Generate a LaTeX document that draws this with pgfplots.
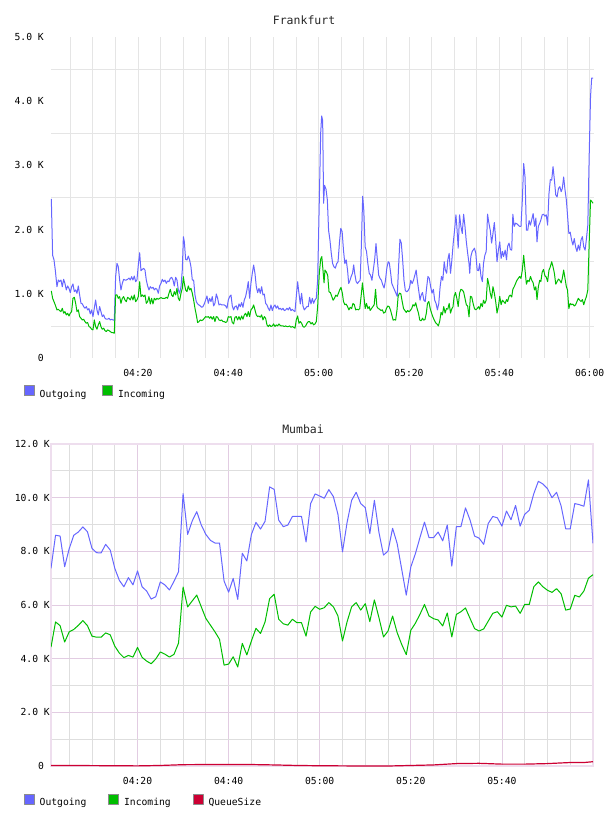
\documentclass[border=0pt]{standalone}
\usepackage{pgfplots}
\pgfplotsset{compat=1.18}
\usepackage{pgfplotstable}
\usepackage{fontspec}
\setmainfont{DejaVu Sans Mono}

\definecolor{outblue}{RGB}{102,102,255}
\definecolor{ingreen}{RGB}{0,190,0}
\definecolor{qred}{RGB}{204,0,51}
\definecolor{fgrid}{RGB}{229,229,229}
\definecolor{mminor}{RGB}{222,222,222}
\definecolor{mmajor}{RGB}{226,204,226}
\definecolor{mframe}{RGB}{238,222,238}

% Mumbai: one sample per minute (minutes after 04:00)
\pgfplotstableread{
t out in
1 7370 4430
2 8600 5370
3 8570 5230
4 7430 4620
5 8100 5000
6 8600 5090
7 8720 5240
8 8910 5420
9 8730 5230
10 8110 4840
11 7950 4800
12 7940 4800
13 8260 4960
14 8050 4890
15 7370 4470
16 6920 4210
17 6680 4040
18 7020 4120
19 6750 4060
20 7270 4420
21 6680 4050
22 6520 3910
23 6220 3810
24 6310 3990
25 6860 4250
26 6750 4170
27 6560 4060
28 6880 4160
29 7240 4580
30 10150 6670
31 8630 5930
32 9130 6150
33 9480 6370
34 8980 5930
35 8630 5500
36 8410 5250
37 8310 5000
38 8310 4720
39 6890 3760
40 6480 3800
41 6990 4070
42 6210 3690
43 7930 4570
44 7640 4140
45 8630 4660
46 9080 5130
47 8830 4940
48 9120 5370
49 10400 6240
50 10310 6400
51 9160 5470
52 8920 5300
53 8980 5250
54 9300 5470
55 9300 5340
56 9300 5340
57 8350 4840
58 9780 5740
59 10140 5950
60 10060 5840
61 9980 5900
62 10300 6090
63 10040 5930
64 9380 5590
65 7980 4660
66 9070 5370
67 9900 5930
68 10200 6090
69 9780 5810
70 9630 6050
71 8660 5380
72 9900 6190
73 8710 5530
74 7860 4810
75 8010 5030
76 8860 5590
77 8290 4970
78 7330 4530
79 6370 4150
80 7420 5060
81 7910 5320
82 8510 5650
83 9090 6020
84 8510 5590
85 8510 5490
86 8720 5440
87 8390 5220
88 8980 5700
89 7450 4810
90 8920 5650
91 8920 5750
92 9620 5890
93 9170 5500
94 8570 5120
95 8490 5030
96 8260 5110
97 9040 5400
98 9300 5690
99 9250 5750
100 8940 5550
101 9500 5990
102 9180 5930
103 9710 5960
104 8940 5690
105 9380 6020
106 9530 6020
107 10150 6680
108 10610 6860
109 10510 6680
110 10340 6550
111 10000 6470
112 10200 6610
113 9690 6420
114 8840 5810
115 8840 5850
116 9780 6360
117 9740 6300
118 9680 6520
119 10660 7000
120 8300 7130
}\mumbai

\pgfplotstableread{
t q
1 20
10 15
20 5
25 20
30 50
35 55
40 60
45 55
50 40
55 20
60 10
65 5
70 0
75 0
80 20
85 40
90 90
95 100
100 70
105 70
110 90
115 130
118 130
120 160
}\mumbaiqueue

\pgfplotsset{
  monitor/.style={
    scale only axis,
    scaled y ticks=false,
    font=\fontsize{9.7}{11}\selectfont,
    major tick length=0pt, minor tick length=0pt,
    tick style={draw=none},
    yticklabel style={anchor=east, inner sep=0pt},
    xticklabel style={anchor=center, inner sep=0pt, yshift=-15pt},
    title style={font=\fontsize{11.5}{13}\selectfont, anchor=center, inner sep=0pt, text=black!85},
    legend columns=-1,
    legend style={draw=none, fill=none, inner sep=0pt, outer sep=0pt,
      anchor=west, font=\fontsize{9.7}{11}\selectfont,
      nodes={inner sep=0pt},
      /tikz/every odd column/.append style={column sep=5pt}},
    legend image code/.code={%
      \draw[fill, draw=black!45, line width=0.7pt] (0pt,-1.5pt) rectangle (10pt,8.5pt);},
    every axis plot/.append style={line width=1pt, line join=round, mark=none},
  }
}

\begin{document}
\begin{tikzpicture}
\useasboundingbox (0,0) rectangle (608pt,-816pt);

% ---------------- Frankfurt ----------------
\begin{axis}[monitor,
  at={(51pt,-358pt)}, anchor=south west,
  width=543pt, height=321pt,
  xmin=0.74, xmax=120.97, ymin=0, ymax=5000,
  axis line style={draw=none},
  xtick={20,40,60,80,100,120},
  xticklabels={04:20,04:40,05:00,05:20,05:40,06:00},
  minor xtick={5,10,15,25,30,35,45,50,55,65,70,75,85,90,95,105,110,115},
  ytick={0,1000,2000,3000,4000,5000},
  yticklabels={0,1.0 K,2.0 K,3.0 K,4.0 K,5.0 K},
  minor ytick={500,1500,2500,3500,4500},
  yticklabel style={xshift=-7pt},
  xmajorgrids, xminorgrids, yminorgrids,
  major grid style={fgrid, line width=0.8pt},
  minor grid style={fgrid, line width=0.8pt},
  title=Frankfurt,
  title style={at={(axis description cs:0.466,1.034)}},
  legend style={at={(axis description cs:-0.0497,-0.106)},
    /tikz/every even column/.append style={column sep=16pt}},
]
\addplot[color=outblue] coordinates {
(0.81,2480) (1.10,1600) (1.40,1530) (1.69,1370) (2.06,1110) (2.36,1215) (2.65,1190) (2.95,1215)
(3.24,1110) (3.54,1225) (3.83,1163) (4.13,1060) (4.42,1122) (4.72,1085) (5.01,1018) (5.31,1110)
(5.60,1153) (5.90,1034) (6.20,1060) (6.49,1008) (6.79,1122) (7.08,982) (7.38,852) (7.67,842)
(7.97,800) (8.26,775) (8.56,800) (8.85,749) (9.15,769) (9.44,687) (9.74,749) (10.03,645)
(10.33,775) (10.62,904) (10.92,749) (11.21,671) (11.51,800) (11.80,723) (12.10,645) (12.40,671)
(12.69,619) (12.99,604) (13.28,604) (13.58,619) (13.87,593) (14.17,604) (14.46,593) (14.76,588)
(15.05,1267) (15.35,1474) (15.64,1422) (15.94,1215) (16.23,1060) (16.53,1163) (16.82,1225) (17.12,1215)
(17.41,1215) (17.71,1225) (18.00,1246) (18.30,1215) (18.59,1267) (18.89,1215) (19.18,1277) (19.48,1189)
(19.77,1215) (20.07,1448) (20.37,1640) (20.66,1360) (20.96,1381) (21.25,1396) (21.55,1370) (21.84,1215)
(22.14,1122) (22.43,1060) (22.73,1111) (23.02,1085) (23.32,1101) (23.61,1060) (23.91,1085) (24.20,1070)
(24.50,1008) (24.79,1122) (25.09,1163) (25.38,1225) (25.68,1189) (25.97,1215) (26.27,1163) (26.56,1200)
(26.86,1189) (27.15,1241) (27.45,1256) (27.75,1215) (28.04,1122) (28.34,1256) (28.63,1215) (28.93,1060)
(29.22,1008) (29.52,1111) (29.81,1370) (30.05,1889) (30.26,1811) (30.55,1536) (30.85,1526) (31.14,1588)
(31.44,1526) (31.73,1422) (32.03,1215) (32.32,1215) (32.62,982) (32.91,878) (33.21,842) (33.50,826)
(33.80,811) (34.09,790) (34.39,800) (34.68,842) (34.98,904) (35.27,966) (35.57,852) (35.86,930)
(36.16,878) (36.45,956) (36.75,811) (37.04,852) (37.34,997) (37.64,930) (37.93,826) (38.23,842)
(38.52,826) (38.82,826) (39.11,826) (39.41,811) (39.70,775) (40.00,904) (40.29,956) (40.59,982)
(40.88,811) (41.18,749) (41.47,800) (41.77,811) (42.06,749) (42.36,842) (42.65,800) (42.95,863)
(43.24,790) (43.54,904) (43.83,956) (44.13,1060) (44.42,1189) (44.72,930) (45.01,1163) (45.31,1319)
(45.61,1448) (45.90,1319) (46.20,1111) (46.49,1018) (46.79,1085) (47.08,1008) (47.38,1111) (47.67,982)
(47.97,997) (48.26,852) (48.56,826) (48.85,775) (49.15,738) (49.44,826) (49.74,738) (50.03,800)
(50.33,826) (50.62,775) (50.92,811) (51.21,759) (51.51,775) (51.80,749) (52.10,775) (52.40,738)
(52.69,749) (52.99,775) (53.28,749) (53.58,790) (53.87,738) (54.17,759) (54.46,738) (54.76,723)
(55.05,956) (55.35,1189) (55.64,1008) (55.94,842) (56.23,1008) (56.53,811) (56.82,749) (57.12,775)
(57.41,800) (57.71,800) (58.00,946) (58.30,842) (58.60,930) (58.89,852) (59.19,904) (59.48,930)
(59.78,1215) (60.15,2460) (60.45,3500) (60.67,3770) (60.89,3700) (61.10,2410) (61.30,2690) (61.63,2630)
(61.93,2460) (62.20,1990) (62.50,1840) (62.80,1630) (63.10,1470) (63.40,1420) (63.70,1400) (64.00,1470)
(64.30,1500) (64.60,1790) (64.90,2020) (65.20,1970) (65.50,1680) (65.80,1470) (66.10,1530) (66.40,1370)
(66.65,1160) (66.95,1210) (67.20,1270) (67.50,1320) (67.76,1450) (67.98,1320) (68.30,1190) (68.60,1160)
(68.90,1190) (69.20,1210) (69.45,1730) (69.75,2520) (70.00,2300) (70.30,1730) (70.60,1660) (70.90,1470)
(71.20,1320) (71.50,1290) (71.80,1210) (72.10,1370) (72.40,1530) (72.70,1780) (73.00,1530) (73.30,1290)
(73.60,1240) (73.90,1210) (74.20,1140) (74.50,1090) (74.80,1210) (75.10,1400) (75.40,1500) (75.65,1480)
(75.95,1320) (76.20,1160) (76.50,1110) (76.80,1060) (77.10,1010) (77.40,960) (77.70,1420) (78.00,1850)
(78.30,1790) (78.60,1530) (78.90,1210) (79.20,1050) (79.50,1030) (79.80,1050) (80.10,1090) (80.40,1210)
(80.70,1160) (81.00,1210) (81.30,1290) (81.60,1370) (81.85,1210) (82.20,1030) (82.45,900) (82.70,980)
(83.00,1020) (83.30,900) (83.60,880) (83.90,1090) (84.20,1270) (84.50,1240) (84.80,1110) (85.10,1010)
(85.40,1070) (85.70,900) (86.00,850) (86.30,750) (86.60,850) (86.90,1110) (87.20,1270) (87.50,1210)
(87.80,1500) (88.05,1370) (88.35,1320) (88.60,1530) (88.90,1630) (89.20,1320) (89.50,1530) (89.80,1790)
(90.10,1990) (90.40,2230) (90.60,2050) (90.90,1710) (91.20,2230) (91.50,2050) (91.80,1940) (92.10,2240)
(92.40,2050) (92.70,1810) (93.00,1630) (93.30,1470) (93.45,1320) (93.70,1580) (94.00,1660) (94.50,1710)
(94.80,1630) (95.10,1370) (95.40,1360) (95.65,1470) (95.95,1270) (96.25,1190) (96.50,1470) (96.80,1600)
(97.10,1660) (97.40,2240) (97.70,2100) (98.00,1990) (98.30,1790) (98.60,1940) (98.90,2110) (99.20,1840)
(99.50,1500) (99.80,1680) (100.10,1810) (100.40,1550) (100.70,1660) (100.95,1580) (101.30,1680) (101.60,1530)
(101.85,1740) (102.15,1790) (102.45,1690) (102.75,1680) (103.00,2240) (103.30,2050) (103.60,2100) (103.90,2090)
(104.20,2070) (104.50,2050) (104.80,2050) (105.10,2460) (105.40,3030) (105.70,2820) (106.00,1990) (106.30,1990)
(106.60,2140) (106.90,2070) (107.20,2160) (107.50,2250) (107.80,2050) (108.10,2180) (108.35,1810) (108.65,2050)
(108.95,2100) (109.20,2150) (109.50,2230) (109.80,2240) (110.10,2210) (110.40,2230) (110.70,2070) (111.00,2560)
(111.30,2780) (111.60,2770) (111.90,2980) (112.20,2770) (112.50,2540) (112.80,2510) (113.10,2640) (113.40,2670)
(113.70,2590) (113.95,2640) (114.25,2820) (114.55,2620) (114.85,2460) (115.10,2230) (115.40,1940) (115.70,1960)
(116.00,1840) (116.30,1760) (116.60,1860) (116.90,1730) (117.20,1660) (117.50,1760) (117.80,1680) (118.10,1840)
(118.40,1890) (118.70,1730) (119.00,1680) (119.30,1860) (119.60,2070) (119.90,3140) (120.20,4070) (120.45,4360)
(120.75,4360)
};
\addlegendentry{Outgoing}
\addplot[color=ingreen] coordinates {
(0.81,1044) (1.10,930) (1.40,878) (1.69,826) (2.06,749) (2.36,759) (2.65,738) (2.95,723)
(3.24,775) (3.54,697) (3.83,723) (4.13,671) (4.42,697) (4.72,655) (5.01,697) (5.31,723)
(5.60,930) (5.90,946) (6.20,852) (6.49,723) (6.79,749) (7.08,645) (7.38,619) (7.67,593)
(7.97,604) (8.26,567) (8.56,541) (8.85,552) (9.15,490) (9.44,479) (9.74,448) (10.03,438)
(10.33,593) (10.62,490) (10.92,448) (11.21,516) (11.51,567) (11.80,490) (12.10,448) (12.40,464)
(12.69,427) (12.99,412) (13.28,438) (13.58,427) (13.87,412) (14.17,396) (14.46,396) (14.76,386)
(15.05,982) (15.35,982) (15.64,930) (15.94,956) (16.23,852) (16.53,930) (16.82,956) (17.12,904)
(17.41,878) (17.71,946) (18.00,930) (18.30,904) (18.59,966) (18.89,904) (19.18,982) (19.48,878)
(19.77,904) (20.07,956) (20.37,1189) (20.66,956) (20.96,982) (21.25,956) (21.55,982) (21.84,852)
(22.14,878) (22.43,956) (22.73,842) (23.02,930) (23.32,842) (23.61,930) (23.91,904) (24.20,930)
(24.50,914) (24.79,930) (25.09,940) (25.38,930) (25.68,930) (25.97,930) (26.27,946) (26.56,930)
(26.86,1008) (27.15,1070) (27.45,982) (27.75,956) (28.04,1034) (28.34,982) (28.63,1085) (28.93,930)
(29.22,894) (29.52,1008) (29.81,1085) (30.05,1267) (30.26,1163) (30.55,1060) (30.85,1034) (31.14,1122)
(31.44,1060) (31.73,1085) (32.03,1008) (32.32,904) (32.62,775) (32.91,671) (33.21,552) (33.50,567)
(33.80,593) (34.09,583) (34.39,593) (34.68,619) (34.98,645) (35.27,635) (35.57,645) (35.86,619)
(36.16,645) (36.45,604) (36.75,645) (37.04,567) (37.34,645) (37.64,635) (37.93,593) (38.23,583)
(38.52,593) (38.82,567) (39.11,567) (39.41,552) (39.70,567) (40.00,645) (40.29,635) (40.59,645)
(40.88,552) (41.18,531) (41.47,635) (41.77,645) (42.06,593) (42.36,645) (42.65,593) (42.95,655)
(43.24,604) (43.54,671) (43.83,697) (44.13,645) (44.42,723) (44.72,645) (45.01,749) (45.31,775)
(45.61,826) (45.90,749) (46.20,671) (46.49,645) (46.79,655) (47.08,635) (47.38,671) (47.67,593)
(47.97,645) (48.26,619) (48.56,516) (48.85,490) (49.15,516) (49.44,490) (49.74,500) (50.03,531)
(50.33,490) (50.62,516) (50.92,500) (51.21,531) (51.51,505) (51.80,500) (52.10,500) (52.40,490)
(52.69,500) (52.99,490) (53.28,490) (53.58,500) (53.87,479) (54.17,490) (54.46,479) (54.76,464)
(55.05,593) (55.35,655) (55.64,541) (55.94,567) (56.23,541) (56.53,490) (56.82,479) (57.12,500)
(57.41,541) (57.71,567) (58.00,567) (58.30,531) (58.60,552) (58.89,516) (59.19,531) (59.48,567)
(59.78,800) (60.15,1320) (60.45,1540) (60.70,1580) (60.96,1370) (61.20,1170) (61.40,1370) (61.70,1340)
(62.00,1290) (62.30,1030) (62.60,1020) (62.90,960) (63.20,900) (63.50,930) (63.80,980) (64.10,960)
(64.40,1010) (64.65,1060) (64.95,1100) (65.25,1010) (65.50,880) (65.80,830) (66.10,840) (66.40,800)
(66.70,750) (67.00,790) (67.30,770) (67.60,850) (67.90,830) (68.20,750) (68.50,760) (68.80,750)
(69.10,770) (69.40,960) (69.70,1170) (70.00,980) (70.30,770) (70.60,850) (70.90,770) (71.20,800)
(71.40,740) (71.70,770) (72.00,800) (72.30,830) (72.60,1070) (72.90,800) (73.20,770) (73.50,760)
(73.80,740) (74.10,750) (74.40,700) (74.70,710) (75.00,770) (75.30,810) (75.60,800) (75.90,750)
(76.20,670) (76.50,590) (76.80,600) (77.05,590) (77.35,750) (77.60,960) (77.90,1010) (78.20,1000)
(78.50,880) (78.80,770) (79.10,740) (79.40,710) (79.70,740) (80.00,720) (80.30,740) (80.60,770)
(80.90,830) (81.20,810) (81.50,860) (81.80,770) (82.10,700) (82.40,590) (82.70,580) (83.00,620)
(83.25,590) (83.55,600) (83.85,700) (84.10,850) (84.40,880) (84.70,770) (85.00,700) (85.30,640)
(85.60,590) (85.90,550) (86.20,530) (86.50,500) (86.80,570) (87.10,710) (87.40,670) (87.70,800)
(88.00,700) (88.30,770) (88.60,760) (88.90,850) (89.20,700) (89.45,760) (89.75,800) (90.00,960)
(90.30,1020) (90.60,930) (90.90,800) (91.20,1010) (91.50,1070) (91.80,1060) (92.10,1030) (92.40,930)
(92.70,830) (93.00,810) (93.30,640) (93.60,960) (93.90,950) (94.20,850) (94.50,770) (94.80,750)
(95.10,770) (95.40,800) (95.65,760) (95.95,850) (96.25,800) (96.50,900) (96.80,850) (97.10,900)
(97.40,1240) (97.70,1140) (98.00,1010) (98.30,930) (98.60,1110) (98.90,1010) (99.20,880) (99.50,700)
(99.80,800) (100.10,960) (100.40,830) (100.70,900) (100.95,880) (101.30,850) (101.60,910) (101.85,880)
(102.15,960) (102.45,980) (102.75,950) (103.00,1070) (103.30,1110) (103.60,1160) (103.90,1210) (104.20,1240)
(104.50,1270) (104.80,1240) (105.10,1370) (105.40,1600) (105.70,1370) (106.00,1150) (106.30,1210) (106.60,1190)
(106.90,1270) (107.20,1210) (107.50,1170) (107.80,1060) (108.10,1110) (108.35,910) (108.65,1110) (108.95,1210)
(109.20,1190) (109.50,1340) (109.80,1380) (110.10,1280) (110.40,1260) (110.70,1190) (111.00,1370) (111.30,1420)
(111.60,1500) (111.90,1420) (112.20,1320) (112.50,1150) (112.80,1190) (113.10,1230) (113.40,1210) (113.70,1170)
(113.95,1240) (114.25,1370) (114.55,1240) (114.85,1110) (115.10,1060) (115.40,770) (115.70,850) (116.00,830)
(116.30,840) (116.60,810) (116.90,830) (117.20,880) (117.50,930) (117.80,900) (118.10,880) (118.40,910)
(118.70,830) (119.00,900) (119.30,960) (119.60,1060) (119.90,1790) (120.20,2460) (120.45,2440) (120.75,2410)
};
\addlegendentry{Incoming}
\end{axis}

% ---------------- Mumbai ----------------
\begin{axis}[monitor,
  at={(51pt,-766pt)}, anchor=south west,
  width=542pt, height=322pt,
  xmin=1, xmax=120, ymin=0, ymax=12000,
  axis line style={mframe, line width=1.5pt},
  xtick={20,40,60,80,100},
  xticklabels={04:20,04:40,05:00,05:20,05:40},
  minor xtick={5,10,15,25,30,35,45,50,55,65,70,75,85,90,95,105,110,115},
  ytick={0,2000,4000,6000,8000,10000,12000},
  yticklabels={0\phantom{0},2.0 K,4.0 K,6.0 K,8.0 K,10.0 K,12.0 K},
  minor ytick={1000,3000,5000,7000,9000,11000},
  yticklabel style={xshift=-1pt},
  grid=both,
  major grid style={mmajor, line width=0.8pt},
  minor grid style={mminor, line width=0.8pt},
  title=Mumbai,
  title style={at={(axis description cs:0.465,1.028)}},
  legend style={at={(axis description cs:-0.0498,-0.106)},
    /tikz/every even column/.append style={column sep=22pt}},
]
\addplot[color=outblue] table[x=t, y=out] {\mumbai};
\addlegendentry{Outgoing}
\addplot[color=ingreen] table[x=t, y=in] {\mumbai};
\addlegendentry{Incoming}
\addplot[color=qred, line width=1.2pt] table[x=t, y=q] {\mumbaiqueue};
\addlegendentry{QueueSize}
\end{axis}
\end{tikzpicture}
\end{document}
